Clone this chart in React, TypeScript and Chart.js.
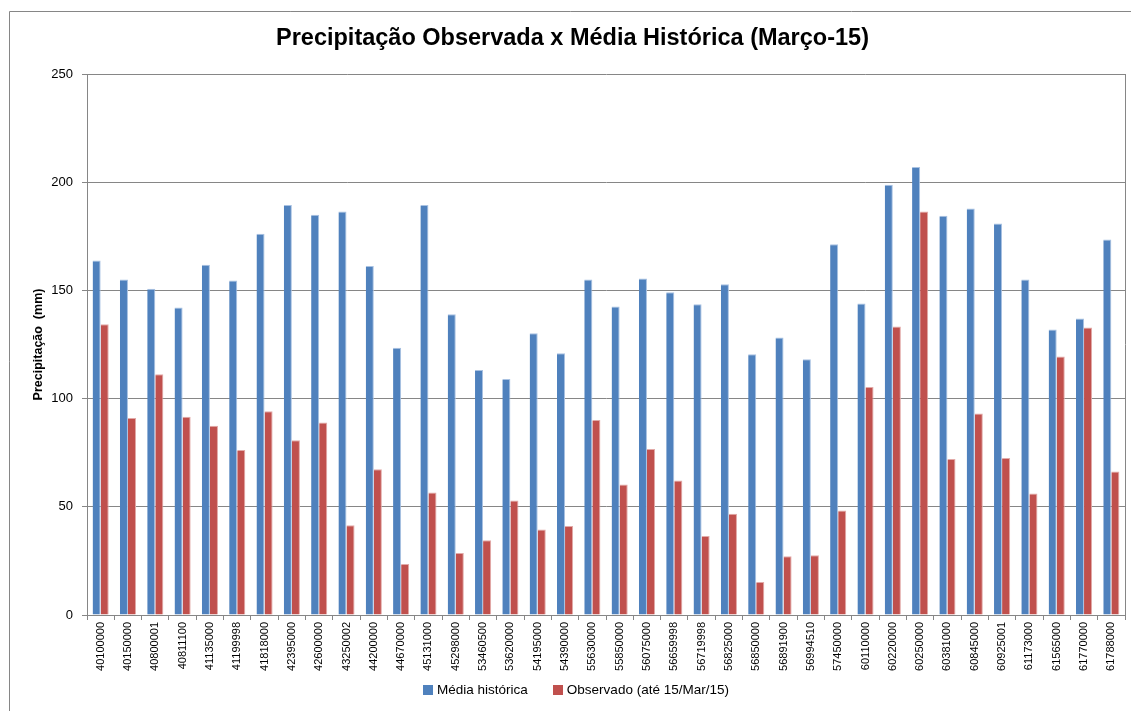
import React, { useEffect, useRef } from "react";
import { Chart, registerables } from "chart.js";

Chart.register(...registerables);

const stations: string[] = [
  "40100000", "40150000", "40800001", "40811100", "41135000", "41199998", "41818000",
  "42395000", "42600000", "43250002", "44200000", "44670000", "45131000", "45298000",
  "53460500", "53620000", "54195000", "54390000", "55630000", "55850000", "56075000",
  "56659998", "56719998", "56825000", "56850000", "56891900", "56994510", "57450000",
  "60110000", "60220000", "60250000", "60381000", "60845000", "60925001", "61173000",
  "61565000", "61770000", "61788000",
];

const mediaHistorica: number[] = [
  163.8, 155.0, 150.8, 142.1, 161.8, 154.6, 176.2,
  189.5, 185.0, 186.5, 161.3, 123.5, 189.5, 139.0,
  113.2, 109.0, 130.2, 121.0, 155.0, 142.6, 155.5,
  149.1, 143.6, 152.8, 120.5, 128.2, 118.2, 171.3,
  144.0, 198.8, 207.0, 184.5, 187.8, 180.9, 155.0,
  131.9, 137.0, 173.5,
];

const observado: number[] = [
  134.3, 91.0, 111.2, 91.6, 87.4, 76.2, 94.2,
  80.8, 89.0, 41.5, 67.3, 23.6, 56.6, 28.6,
  34.5, 52.9, 39.5, 41.1, 90.1, 60.3, 76.7,
  62.1, 36.5, 46.8, 15.3, 27.1, 27.6, 48.3,
  105.4, 133.3, 186.5, 72.1, 93.1, 72.6, 56.1,
  119.4, 132.9, 66.3,
];

const yTicks: number[] = [0, 50, 100, 150, 200, 250];

const titleText = "Precipitação Observada x Média Histórica (Março-15)";
const yTitle = "Precipitação  (mm)";
const seriesNames = ["Média histórica", "Observado (até 15/Mar/15)"];
const seriesColors = ["#4F81BD", "#C0504D"];
const seriesBorders = ["#A9C2E2", "#E2AAA8"];

const FONT = "'Liberation Sans', Arial, sans-serif";
const GRAY = "#868686";

const framePlugin = {
  id: "frame",
  beforeDraw(chart: any) {
    const { ctx, width, height } = chart;
    ctx.save();
    ctx.fillStyle = "#ffffff";
    ctx.fillRect(0, 0, width, height);
    ctx.strokeStyle = GRAY;
    ctx.lineWidth = 1;
    ctx.beginPath();
    ctx.moveTo(9.5, height + 2);
    ctx.lineTo(9.5, 11.5);
    ctx.lineTo(width + 2, 11.5);
    ctx.stroke();
    ctx.restore();
  },
  afterDraw(chart: any) {
    const { ctx, chartArea } = chart;
    ctx.save();
    ctx.strokeStyle = GRAY;
    ctx.lineWidth = 1;
    ctx.beginPath();
    const x = Math.round(chartArea.right) + 0.5;
    ctx.moveTo(x, chartArea.top);
    ctx.lineTo(x, chartArea.bottom);
    ctx.stroke();

    // legend (bottom, centered)
    const items = chart.data.datasets.map((d: any) => ({
      text: d.label as string,
      color: d.backgroundColor as string,
    }));
    ctx.font = `13.5px ${FONT}`;
    ctx.textBaseline = "middle";
    ctx.textAlign = "left";
    const box = 10;
    const gapBoxText = 4;
    const gapItems = 25;
    const widths = items.map((it: any) => box + gapBoxText + ctx.measureText(it.text).width);
    const total = widths.reduce((a: number, b: number) => a + b, 0) + gapItems * (items.length - 1);
    let cx = 576 - total / 2;
    const cy = 690;
    items.forEach((it: any, i: number) => {
      ctx.fillStyle = it.color;
      ctx.fillRect(Math.round(cx), cy - 5, box, box);
      ctx.fillStyle = "#000000";
      ctx.fillText(it.text, cx + box + gapBoxText, cy + 0.5);
      cx += widths[i] + gapItems;
    });
    ctx.restore();
  },
};

export default function App() {
  const ref = useRef<HTMLCanvasElement | null>(null);

  useEffect(() => {
    if (!ref.current) return;
    const chart = new Chart(ref.current, {
      type: "bar",
      data: {
        labels: stations,
        datasets: [
          {
            label: seriesNames[0],
            data: mediaHistorica,
            backgroundColor: seriesColors[0],
            borderColor: seriesBorders[0],
            borderWidth: { top: 1, right: 1, left: 0, bottom: 0 },
            categoryPercentage: 0.59,
            barPercentage: 1.0,
          },
          {
            label: seriesNames[1],
            data: observado,
            backgroundColor: seriesColors[1],
            borderColor: seriesBorders[1],
            borderWidth: { top: 1, right: 1, left: 0, bottom: 0 },
            categoryPercentage: 0.59,
            barPercentage: 1.0,
          },
        ],
      },
      options: {
        responsive: false,
        animation: false,
        layout: { padding: { left: 20, top: 0, right: 6, bottom: 37 } },
        plugins: {
          title: {
            display: true,
            text: titleText,
            color: "#000000",
            font: { family: FONT, size: 23.5, weight: "bold", lineHeight: 1.2 },
            padding: { top: 24.2, bottom: 21.6 },
          },
          legend: { display: false },
          tooltip: { enabled: false },
        },
        scales: {
          x: {
            offset: true,
            grid: {
              offset: true,
              drawOnChartArea: false,
              drawTicks: true,
              tickLength: 5,
              color: GRAY,
            },
            border: { display: true, color: GRAY, width: 1 },
            ticks: {
              color: "#000000",
              font: { family: FONT, size: 11 },
              minRotation: 90,
              maxRotation: 90,
              autoSkip: false,
              padding: 2,
            },
            afterFit(scale: any) {
              scale.height = 59;
            },
          },
          y: {
            min: 0,
            max: 250,
            afterBuildTicks(scale: any) {
              scale.ticks = yTicks.map((v) => ({ value: v }));
            },
            grid: {
              color: GRAY,
              borderDash: [1, 1],
              drawTicks: true,
              tickLength: 5,
              tickColor: GRAY,
              tickBorderDash: [],
            },
            border: { display: true, color: GRAY, width: 1 },
            ticks: {
              color: "#000000",
              font: { family: FONT, size: 13 },
              padding: 9,
            },
            title: {
              display: true,
              text: yTitle,
              color: "#000000",
              font: { family: FONT, size: 12.5, weight: "bold" },
              padding: { top: 11, bottom: 0 },
            },
            afterFit(scale: any) {
              scale.width = 67;
            },
          },
        },
      },
      plugins: [framePlugin],
    });
    return () => chart.destroy();
  }, []);

  return (
    <div style={{ position: "fixed", left: 0, top: 0, width: 1131, height: 711 }}>
      <canvas ref={ref} width={1131} height={711} style={{ display: "block" }} />
    </div>
  );
}
